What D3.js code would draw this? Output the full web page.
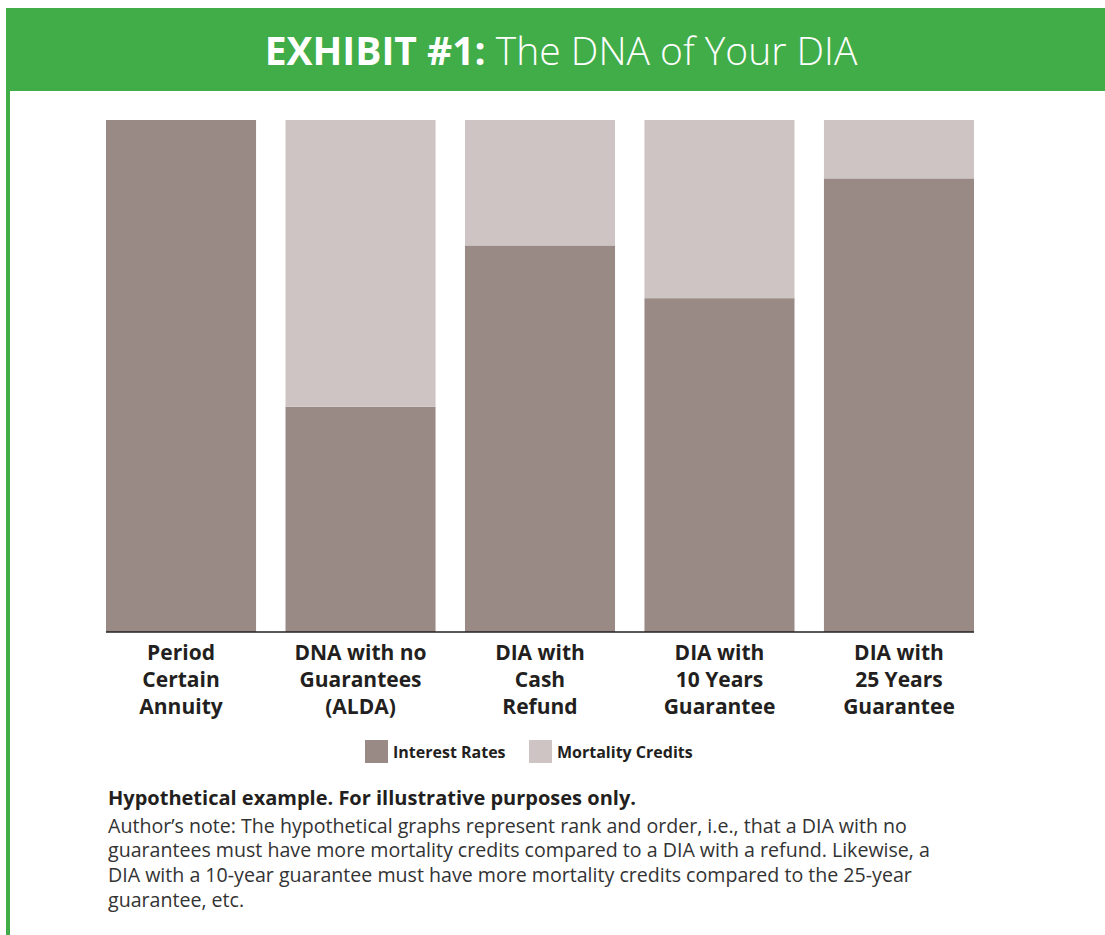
<!DOCTYPE html>
<html>
<head>
<meta charset="utf-8">
<script src="https://cdn.jsdelivr.net/npm/d3@7"></script>
<style>
  body { margin: 0; background: #fff; }
  text { font-family: "Open Sans", "Noto Sans", sans-serif; }
</style>
</head>
<body>
<div id="chart"></div>
<script>
// categories, one entry per bar, already split into label lines
const categories = ["Period Certain Annuity", "DNA with no Guarantees (ALDA)", "DIA with Cash Refund",
  "DIA with 10 Years Guarantee", "DIA with 25 Years Guarantee"];
const categoryLines = [
  ["Period", "Certain", "Annuity"],
  ["DNA with no", "Guarantees", "(ALDA)"],
  ["DIA with", "Cash", "Refund"],
  ["DIA with", "10 Years", "Guarantee"],
  ["DIA with", "25 Years", "Guarantee"]
];
// share of each bar (percent)
const interestRates = [100, 44, 75.5, 65.2, 88.6];
const mortalityCredits = [0, 56, 24.5, 34.8, 11.4];
const seriesNames = ["Interest Rates", "Mortality Credits"];
const seriesColors = ["#998a86", "#cdc4c3"];

const noteTitle = "Hypothetical example. For illustrative purposes only.";
const noteLines = [
  "Author\u2019s note: The hypothetical graphs represent rank and order, i.e., that a DIA with no",
  "guarantees must have more mortality credits compared to a DIA with a refund. Likewise, a",
  "DIA with a 10-year guarantee must have more mortality credits compared to the 25-year",
  "guarantee, etc."
];

const width = 1105, height = 935;
const green = "#41ad49";
const margin = { top: 120, left: 106, right: 131, bottom: 303 };

const svg = d3.select("#chart").append("svg")
  .attr("width", width)
  .attr("height", height);

// header band and left rule
svg.append("rect")
  .attr("x", 6).attr("y", 8)
  .attr("width", width - 6).attr("height", 83)
  .attr("fill", green);
svg.append("rect")
  .attr("x", 6).attr("y", 91)
  .attr("width", 4).attr("height", height - 91)
  .attr("fill", green);

const title = svg.append("text")
  .attr("x", 561).attr("y", 65)
  .attr("text-anchor", "middle")
  .attr("fill", "#fff")
  .style("font-size", "39px");
title.append("tspan").attr("font-weight", 700).text("EXHIBIT #1:");
title.append("tspan").attr("font-weight", 300).text(" The DNA of Your DIA");

// stacked data
const table = categories.map((c, i) => ({
  category: c,
  "Interest Rates": interestRates[i],
  "Mortality Credits": mortalityCredits[i]
}));
const stacked = d3.stack().keys(seriesNames)(table);

const x = d3.scaleBand()
  .domain(categories)
  .range([margin.left, width - margin.right])
  .paddingInner(0.164);

const y = d3.scaleLinear()
  .domain([0, 100])
  .range([height - margin.bottom, margin.top]);

const color = d3.scaleOrdinal().domain(seriesNames).range(seriesColors);

svg.append("g")
  .selectAll("g")
  .data(stacked)
  .join("g")
  .attr("fill", d => color(d.key))
  .selectAll("rect")
  .data(d => d)
  .join("rect")
  .attr("x", d => x(d.data.category))
  .attr("y", d => y(d[1]))
  .attr("width", x.bandwidth())
  .attr("height", d => y(d[0]) - y(d[1]));

// baseline
svg.append("line")
  .attr("x1", x.range()[0]).attr("x2", x.range()[1])
  .attr("y1", y(0)).attr("y2", y(0))
  .attr("stroke", "#231f20")
  .attr("stroke-width", 1.5);

// category labels
const labels = svg.append("g")
  .selectAll("text")
  .data(categories)
  .join("text")
  .attr("text-anchor", "middle")
  .attr("fill", "#231f20")
  .attr("font-weight", 700)
  .style("font-size", "21px");

labels.selectAll("tspan")
  .data((d, i) => categoryLines[i].map(line => ({ line, cat: d })))
  .join("tspan")
  .attr("x", d => x(d.cat) + x.bandwidth() / 2)
  .attr("y", (d, j) => y(0) + 28 + j * 27)
  .text(d => d.line);

// legend
const legendPos = [365, 529];
const legend = svg.append("g")
  .selectAll("g")
  .data(seriesNames)
  .join("g")
  .attr("transform", (d, i) => `translate(${legendPos[i]},740)`);

legend.append("rect")
  .attr("width", 23).attr("height", 23)
  .attr("fill", d => color(d));

legend.append("text")
  .attr("x", 28).attr("y", 18)
  .attr("fill", "#231f20")
  .attr("font-weight", 700)
  .style("font-size", "16px")
  .text(d => d);

// note
svg.append("text")
  .attr("x", 108).attr("y", 805)
  .attr("fill", "#231f20")
  .attr("font-weight", 700)
  .style("font-size", "20px")
  .text(noteTitle);

svg.append("g")
  .selectAll("text")
  .data(noteLines)
  .join("text")
  .attr("x", 108)
  .attr("y", (d, i) => 832.5 + i * 24.7)
  .attr("fill", "#333")
  .style("font-size", "19.6px")
  .text(d => d);
</script>
</body>
</html>
